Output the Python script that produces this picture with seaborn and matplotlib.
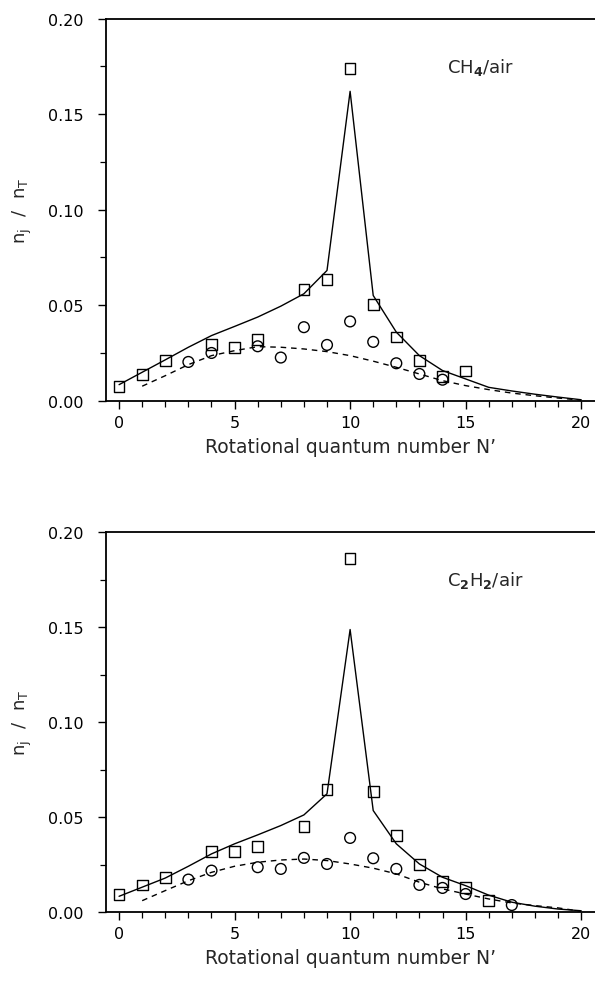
import numpy as np
import pandas as pd
import matplotlib
matplotlib.use("Agg")
import matplotlib.pyplot as plt
import seaborn as sns
from matplotlib.ticker import MultipleLocator

# ---------------- data ----------------
N_line = list(range(0, 21))
N_dash = list(range(1, 21))

# CH4/air panel
ch4_sq_N = [0, 1, 2, 4, 5, 6, 8, 9, 10, 11, 12, 13, 14, 15]
ch4_sq_v = [0.0076, 0.0137, 0.0210, 0.0294, 0.0277, 0.0319, 0.0583, 0.0635,
            0.174, 0.0502, 0.0334, 0.0212, 0.0126, 0.0156]
ch4_ci_N = [3, 4, 6, 7, 8, 9, 10, 11, 12, 13, 14]
ch4_ci_v = [0.0203, 0.0250, 0.0285, 0.0226, 0.0385, 0.0292, 0.0415, 0.0308,
            0.0196, 0.0140, 0.0110]
ch4_solid = [0.0084, 0.0149, 0.0214, 0.0280, 0.0341, 0.0389, 0.0438, 0.0495,
             0.0560, 0.0682, 0.162, 0.0551, 0.0359, 0.0236, 0.0158, 0.0114,
             0.0070, 0.0051, 0.0034, 0.0019, 0.0005]
ch4_dash = [0.0076, 0.0131, 0.0189, 0.0236, 0.0262, 0.0283, 0.0280, 0.0271,
            0.0257, 0.0236, 0.0207, 0.0175, 0.0140, 0.0105, 0.0079, 0.0058,
            0.0040, 0.0026, 0.0014, 0.0003]

# C2H2/air panel
c2h2_sq_N = [0, 1, 2, 4, 5, 6, 8, 9, 10, 11, 12, 13, 14, 15, 16]
c2h2_sq_v = [0.0093, 0.0144, 0.0184, 0.0321, 0.0319, 0.0347, 0.0451, 0.0645,
             0.186, 0.0635, 0.0403, 0.0253, 0.0163, 0.0132, 0.0061]
c2h2_ci_N = [3, 4, 6, 7, 8, 9, 10, 11, 12, 13, 14, 15, 17]
c2h2_ci_v = [0.0172, 0.0219, 0.0237, 0.0228, 0.0286, 0.0254, 0.0391, 0.0284,
             0.0228, 0.0144, 0.0128, 0.0096, 0.0038]
c2h2_solid = [0.0084, 0.0132, 0.0180, 0.0242, 0.0307, 0.0360, 0.0407, 0.0456,
              0.0512, 0.0623, 0.1487, 0.0535, 0.0360, 0.0254, 0.0184, 0.0140,
              0.0090, 0.0053, 0.0032, 0.0017, 0.0008]
c2h2_dash = [0.0061, 0.0114, 0.0166, 0.0210, 0.0242, 0.0263, 0.0275, 0.0280,
             0.0272, 0.0254, 0.0232, 0.0202, 0.0158, 0.0123, 0.0096, 0.0070,
             0.0049, 0.0035, 0.0023, 0.0005]

xticks = [0, 5, 10, 15, 20]
yticks = [0.00, 0.05, 0.10, 0.15, 0.20]
xlabel = "Rotational quantum number N\u2019"
ylabel = r"$\mathregular{n_j\ \ /\ \ n_T}$"
labels = [r"CH$_\mathbf{4}$/air", r"C$_\mathbf{2}$H$_\mathbf{2}$/air"]

# ---------------- style ----------------
sns.set_theme(style="ticks")
plt.rcParams["font.family"] = ["DejaVu Sans"]
plt.rcParams["mathtext.fontset"] = "dejavusans"

fig = plt.figure(figsize=(5.95, 9.87), dpi=100)
ax_top = fig.add_axes([0.178, 0.593, 0.822, 0.387])
ax_bot = fig.add_axes([0.178, 0.0747, 0.822, 0.3853])

panels = [
    (ax_top, ch4_sq_N, ch4_sq_v, ch4_ci_N, ch4_ci_v, ch4_solid, ch4_dash, labels[0]),
    (ax_bot, c2h2_sq_N, c2h2_sq_v, c2h2_ci_N, c2h2_ci_v, c2h2_solid, c2h2_dash, labels[1]),
]

for ax, sqN, sqv, ciN, civ, solid, dash, lab in panels:
    sns.lineplot(x=N_line, y=solid, ax=ax, color="black", linewidth=1.0)
    sns.lineplot(x=N_dash, y=dash, ax=ax, color="black", linewidth=1.0,
                 linestyle=(0, (4, 3.5)))
    sns.scatterplot(x=sqN, y=sqv, ax=ax, marker="s", s=60,
                    facecolor="none", edgecolor="black", linewidth=1.0, zorder=3)
    sns.scatterplot(x=ciN, y=civ, ax=ax, marker="o", s=60,
                    facecolor="none", edgecolor="black", linewidth=1.0, zorder=3)

    ax.set_xlim(-0.57, 20.6)
    ax.set_ylim(0.0, 0.20)
    ax.set_xticks(xticks)
    ax.set_yticks(yticks)
    ax.set_yticklabels([f"{v:.2f}" for v in yticks])
    ax.xaxis.set_minor_locator(MultipleLocator(1))
    ax.yaxis.set_minor_locator(MultipleLocator(0.025))
    ax.tick_params(axis="x", which="major", direction="out", length=6,
                   width=1.0, labelsize=11.5, colors="black", pad=4)
    ax.tick_params(axis="y", which="major", direction="out", length=6,
                   width=1.0, labelsize=11.5, colors="black", pad=10)
    ax.tick_params(axis="both", which="minor", direction="out", length=4,
                   width=0.9, colors="black")
    for side in ["left", "bottom", "top"]:
        ax.spines[side].set_visible(True)
        ax.spines[side].set_color("black")
        ax.spines[side].set_linewidth(1.3)
    ax.spines["right"].set_visible(False)
    ax.set_xlabel(xlabel, fontsize=13.5, labelpad=5)
    ax.set_ylabel(ylabel, fontsize=13, labelpad=10)
    ax.text(14.2, 0.175, lab, fontsize=13, ha="left", va="center")

fig.savefig("out.png", dpi=100)
